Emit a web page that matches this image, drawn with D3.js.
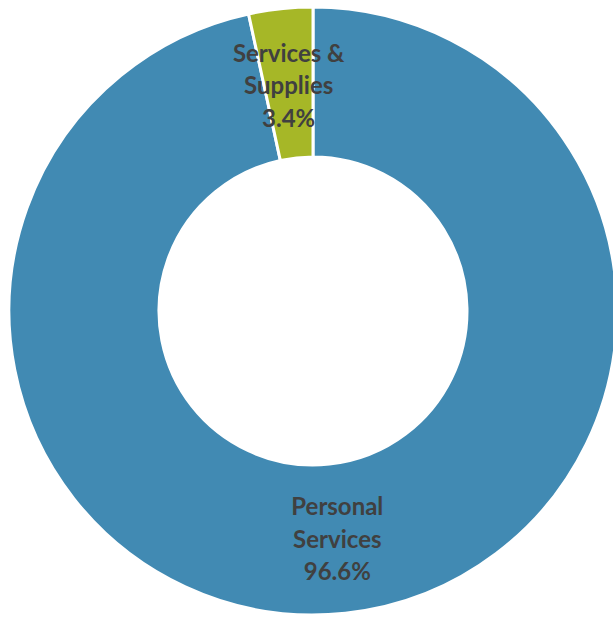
<!DOCTYPE html>
<html>
<head>
<meta charset="utf-8">
<script src="https://cdn.jsdelivr.net/npm/d3@7"></script>
<style>
  body { margin: 0; background: #fff; }
  svg { display: block; }
</style>
</head>
<body>
<script>
var categories = ["Personal Services", "Services & Supplies"]
var values = [96.6, 3.4]
var labelLines = [["Personal", "Services", "96.6%"], ["Services &", "Supplies", "3.4%"]]
var colors = ["#418AB3", "#A6B727"]

var width = 613, height = 617
var cx = 313, cy = 311
var outerR = 304, innerR = 154, labelR = 228

var svg = d3.select("body").append("svg")
    .attr("width", width)
    .attr("height", height)

var g = svg.append("g").attr("transform", "translate(" + [cx, cy] + ")")

var pie = d3.pie().sort(null).value(function(d) { return d })
var arcs = pie(values)

var arc = d3.arc().innerRadius(innerR).outerRadius(outerR)
var labelArc = d3.arc().innerRadius(labelR).outerRadius(labelR)

g.selectAll("path")
    .data(arcs)
    .enter().append("path")
    .attr("d", arc)
    .attr("fill", function(d, i) { return colors[i] })
    .attr("stroke", "#fff")
    .attr("stroke-width", 3)

var lineH = 32.5
var labels = g.selectAll("text")
    .data(arcs)
    .enter().append("text")
    .attr("transform", function(d) { return "translate(" + labelArc.centroid(d) + ")" })
    .attr("text-anchor", "middle")
    .attr("font-family", "Lato, 'Open Sans', sans-serif")
    .attr("font-weight", "bold")
    .attr("font-size", 24)
    .attr("fill", "#404040")

labels.each(function(d, i) {
    var lines = labelLines[i]
    var t = d3.select(this)
    lines.forEach(function(s, j) {
        t.append("tspan")
            .attr("x", 0)
            .attr("y", (j - (lines.length - 1) / 2) * lineH + 10)
            .text(s)
    })
})
</script>
</body>
</html>
